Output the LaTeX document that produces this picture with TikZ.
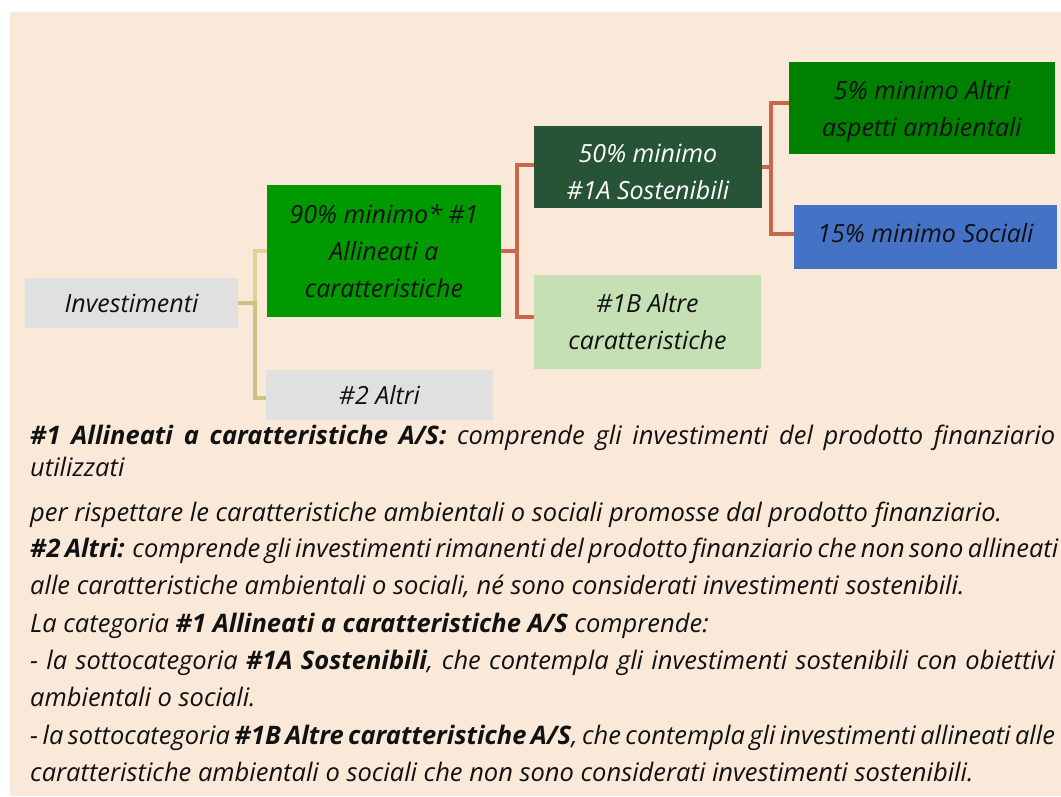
\documentclass[tikz,border=0pt]{standalone}
\usepackage{fontspec}
\setmainfont{Open Sans}
\definecolor{Bg}{HTML}{FAE8D8}
\definecolor{GrayBox}{HTML}{E0E0E0}
\definecolor{GreenA}{HTML}{009900}
\definecolor{DarkGreen}{HTML}{275337}
\definecolor{LightGreen}{HTML}{C5E0B4}
\definecolor{GreenB}{HTML}{008000}
\definecolor{BlueBox}{HTML}{4472C4}
\definecolor{KhakiA}{HTML}{DDD393}
\definecolor{KhakiB}{HTML}{CCC284}
\definecolor{Coral}{HTML}{C9664C}
\definecolor{Ink}{HTML}{111111}
\newcommand\diagfont{\fontsize{25}{37}\selectfont\itshape}
\newcommand\parafont{\fontsize{25.5}{30}\selectfont\itshape}
\begin{document}
\begin{tikzpicture}[x=1pt,y=-1pt,
  box/.style={rectangle, inner sep=0pt, align=center, font=\diagfont, text=Ink},
  khakiA/.style={draw=KhakiA, line width=4pt},
  khakiB/.style={draw=KhakiB, line width=4pt},
  coral/.style={draw=Coral, line width=4pt},
  para/.style={anchor=base west, inner sep=0pt, font=\parafont, text=Ink}]
\useasboundingbox (0,0) rectangle (1061,796);
\fill[Bg] (10,12) rectangle (1061,796);
% boxes
\node[box, fill=GrayBox, minimum width=213pt, minimum height=50pt] (inv) at (131.5,303) {Investimenti};
\node[box, fill=GreenA, minimum width=234pt, minimum height=132pt] (n1) at (384,251) {90\% minimo* \#1\\Allineati a\\caratteristiche};
\node[box, fill=GrayBox, minimum width=227pt, minimum height=50pt] (n2) at (379.5,395) {\#2 Altri};
\node[box, fill=DarkGreen, text=white, minimum width=228pt, minimum height=82pt] (n1a) at (648,167) {\rule{0pt}{29pt}50\% minimo\\\#1A Sostenibili};
\node[box, fill=LightGreen, minimum width=227pt, minimum height=94pt] (n1b) at (647.5,322) {\#1B Altre\\caratteristiche};
\node[box, fill=GreenB, minimum width=266pt, minimum height=92pt] (nenv) at (922,108) {\rule{0pt}{26pt}5\% minimo Altri\\aspetti ambientali};
\node[box, fill=BlueBox, minimum width=263pt, minimum height=64pt] (nsoc) at (925.5,237) {\rule[-8pt]{0pt}{8pt}15\% minimo Sociali};
% connectors
\draw[khakiA] (inv.east) -- ++(17,0) |- (n1.west);
\draw[khakiB] (inv.east) -- ++(17,0) |- ([yshift=-3pt]n2.west);
\draw[coral] (n1.east) -- ++(16,0) |- ([yshift=2pt]n1a.west);
\draw[coral] (n1.east) -- ++(16,0) |- ([yshift=5pt]n1b.west);
\draw[coral] (n1a.east) -- ++(9,0) |- ([yshift=5pt]nenv.west);
\draw[coral] (n1a.east) -- ++(9,0) |- ([yshift=3pt]nsoc.west);
% paragraph
\node[para] (l1) at (30,444) {\makebox[1025pt][s]{\textbf{\#1 Allineati a caratteristiche A/S:} comprende gli investimenti del prodotto finanziario}};
\node[para] (l2) at (30,476) {utilizzati};
\node[para] (l3) at (30,521) {per rispettare le caratteristiche ambientali o sociali promosse dal prodotto finanziario.};
\node[para] (l4) at (30,557) {\makebox[1025pt][s]{\textbf{\#2 Altri:} comprende gli investimenti rimanenti del prodotto finanziario che non sono allineati}};
\node[para] (l5) at (30,594) {alle caratteristiche ambientali o sociali, né sono considerati investimenti sostenibili.};
\node[para] (l6) at (30,632) {La categoria \textbf{\#1 Allineati a caratteristiche A/S} comprende:};
\node[para] (l7) at (30,669) {\makebox[1025pt][s]{- la sottocategoria \textbf{\#1A Sostenibili}, che contempla gli investimenti sostenibili con obiettivi}};
\node[para] (l8) at (30,706) {ambientali o sociali.};
\node[para] (l9) at (30,744) {\makebox[1025pt][s]{- la sottocategoria \textbf{\#1B Altre caratteristiche A/S}, che contempla gli investimenti allineati alle}};
\node[para] (l10) at (30,781) {caratteristiche ambientali o sociali che non sono considerati investimenti sostenibili.};
\end{tikzpicture}
\end{document}
